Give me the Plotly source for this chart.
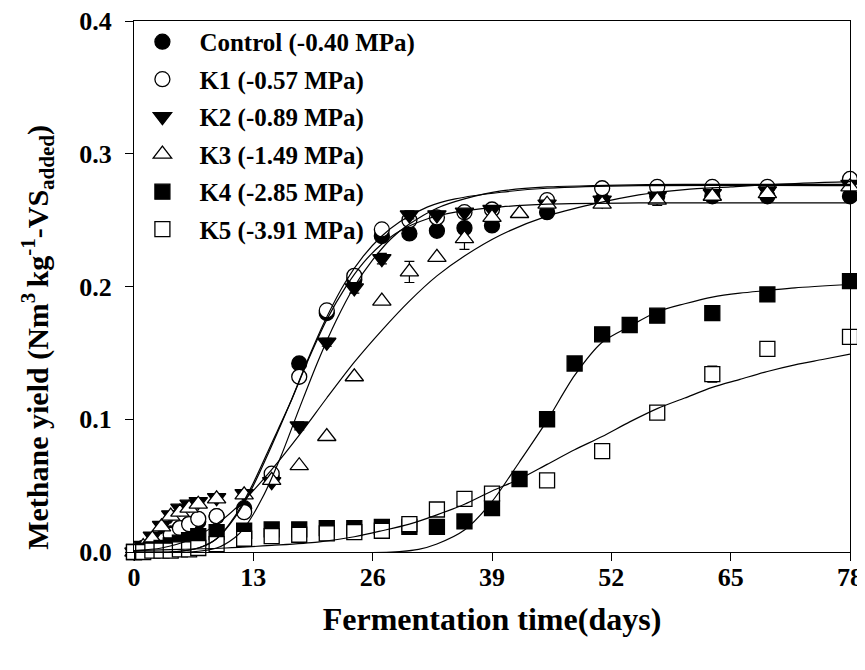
import plotly.graph_objects as go

# ---------------- data ----------------
days = [0, 1, 2, 3, 4, 5, 6, 7, 9, 12, 15, 18, 21, 24, 27, 30, 33, 36, 39, 42, 45, 48, 51, 54, 57, 63, 69, 78]

control = [0.000, 0.003, 0.006, 0.010, 0.014, 0.018, 0.021, 0.023, 0.027, 0.033, 0.056, 0.142, 0.180, 0.205,
           0.238, 0.240, 0.242, 0.244, 0.246, None, 0.256, None, 0.265, None, 0.268, 0.268, 0.268, 0.268]
k1 = [0.000, 0.002, 0.005, 0.009, 0.013, 0.018, 0.021, 0.025, 0.027, 0.030, 0.059, 0.132, 0.182, 0.208,
      0.243, 0.250, 0.252, 0.256, 0.258, None, 0.265, None, 0.274, None, 0.275, 0.275, 0.275, 0.281]
k2 = [0.000, 0.005, 0.012, 0.020, 0.028, 0.033, 0.036, 0.038, 0.041, 0.044, 0.053, 0.095, 0.158, 0.199,
      0.221, 0.254, 0.254, 0.256, 0.258, None, 0.262, None, 0.265, None, 0.268, 0.270, 0.272, 0.277]
k3 = [0.000, 0.004, 0.010, 0.019, 0.027, 0.030, 0.033, 0.036, 0.040, 0.043, 0.054, 0.065, 0.087, 0.132,
      0.189, 0.211, 0.222, 0.236, 0.252, 0.255, 0.262, None, 0.262, None, 0.265, 0.268, 0.270, 0.275]
k4 = [0.000, 0.001, 0.002, 0.003, 0.005, 0.007, 0.009, 0.012, 0.015, 0.016, 0.017, 0.017, 0.018, 0.018,
      0.019, 0.019, 0.019, 0.023, 0.033, 0.055, 0.100, 0.142, 0.164, 0.171, 0.178, 0.180, 0.194, 0.204]
k5 = [0.000, 0.000, 0.001, 0.001, 0.001, 0.002, 0.002, 0.003, 0.006, 0.010, 0.012, 0.013, 0.014, 0.015,
      0.016, 0.021, 0.032, 0.040, 0.044, None, 0.054, None, 0.076, None, 0.105, 0.134, 0.153, 0.162]

k2_err = [0, 0, 0, 0, 0, 0, 0, 0, 0, 0, 0, 0.003, 0.003, 0.004, 0.004, 0.003, 0, 0, 0, 0, 0, 0, 0, 0, 0, 0, 0, 0]
k3_err = [0, 0, 0, 0, 0, 0, 0, 0, 0, 0, 0, 0, 0, 0, 0, 0.008, 0, 0.008, 0, 0, 0, 0, 0, 0, 0.004, 0, 0, 0]
k5_err = [0, 0, 0, 0, 0, 0, 0, 0, 0, 0, 0, 0, 0, 0, 0, 0, 0.004, 0, 0, 0, 0, 0, 0, 0, 0, 0.006, 0, 0]

# fitted curves
fit_days_a = [0, 4, 7, 9, 11, 13, 15, 17, 19, 21, 23, 25, 27, 29, 32, 35, 40, 45, 55, 78]
fit_control = [0.000, 0.000, 0.003, 0.010, 0.027, 0.052, 0.082, 0.112, 0.145, 0.175, 0.199, 0.218, 0.232,
               0.242, 0.251, 0.256, 0.260, 0.262, 0.263, 0.263]
fit_k1 = [0.000, 0.000, 0.003, 0.010, 0.026, 0.050, 0.080, 0.112, 0.146, 0.177, 0.203, 0.223, 0.238,
          0.249, 0.260, 0.266, 0.271, 0.274, 0.276, 0.276]
fit_days_b = [0, 6, 9, 11, 12, 14, 16, 18, 20, 22, 24, 26, 28, 30, 33, 36, 40, 45, 50, 60, 78]
fit_k2 = [0.000, 0.000, 0.003, 0.011, 0.018, 0.041, 0.072, 0.108, 0.143, 0.174, 0.200, 0.220, 0.236,
          0.247, 0.259, 0.266, 0.272, 0.275, 0.276, 0.277, 0.277]
fit_days_c = [0, 3, 6, 9, 12, 15, 18, 21, 24, 27, 30, 33, 36, 40, 45, 50, 55, 60, 65, 70, 78]
fit_k3 = [0.001, 0.003, 0.009, 0.021, 0.039, 0.062, 0.088, 0.116, 0.143, 0.167, 0.189, 0.208, 0.223,
          0.239, 0.253, 0.262, 0.269, 0.273, 0.275, 0.277, 0.279]
fit_days_d = [0, 28, 31, 33, 36, 39, 42, 45, 48, 51, 54, 57, 60, 63, 66, 69, 72, 78]
fit_k4 = [0.000, 0.000, 0.002, 0.006, 0.0165, 0.038, 0.068, 0.099, 0.133, 0.158, 0.170, 0.181, 0.187,
          0.192, 0.195, 0.197, 0.199, 0.2015]
fit_days_e = [0, 5, 10, 15, 20, 24, 27, 30, 33, 36, 39, 42, 45, 48, 51, 54, 57, 60, 63, 66, 69, 72, 75, 78]
fit_k5 = [0.001, 0.002, 0.003, 0.005, 0.0075, 0.0115, 0.016, 0.021, 0.028, 0.036, 0.046, 0.055, 0.066,
          0.077, 0.087, 0.098, 0.108, 0.116, 0.124, 0.130, 0.136, 0.141, 0.145, 0.149]

names = ["Control (-0.40 MPa)", "K1 (-0.57 MPa)", "K2 (-0.89 MPa)",
         "K3 (-1.49 MPa)", "K4 (-2.85 MPa)", "K5 (-3.91 MPa)"]
x_ticks = [0, 13, 26, 39, 52, 65, 78]
y_ticks = [0.0, 0.1, 0.2, 0.3, 0.4]
x_title = "Fermentation time(days)"
y_title = "Methane yield (Nm<sup>3 </sup>kg<sup>-1</sup>-VS<sub>added</sub>)"

# ---------------- figure ----------------
FONT = "Liberation Serif"
fig = go.Figure()

series = [control, k1, k2, k3, k4, k5]
errs = [None, None, k2_err, k3_err, None, k5_err]
symbols = ["circle", "circle", "triangle-down", "triangle-up", "square", "square"]
fills = ["black", "white", "black", "white", "black", "white"]
sizes = [15, 15, 16, 16, 15, 15]

for i, (name, ys, err, sym, fc, sz) in enumerate(zip(names, series, errs, symbols, fills, sizes)):
    kw = {}
    if err is not None:
        kw["error_y"] = dict(type="data", array=err, visible=True, color="black",
                             thickness=1.2, width=5)
    fig.add_trace(go.Scatter(
        x=days, y=ys, mode="markers", name=name, cliponaxis=False, legendgroup="g%d" % i,
        marker=dict(symbol=sym, size=sz, color=fc, line=dict(color="black", width=1.3)),
        **kw))

fits = [(fit_days_a, fit_control), (fit_days_a, fit_k1), (fit_days_b, fit_k2),
        (fit_days_c, fit_k3), (fit_days_d, fit_k4), (fit_days_e, fit_k5)]
for fx, fy in fits:
    fig.add_trace(go.Scatter(x=fx, y=fy, mode="lines", showlegend=False, hoverinfo="skip",
                             line=dict(color="black", width=1.2, shape="spline", smoothing=0.8)))

axis_common = dict(showline=True, linecolor="black", linewidth=1.3, mirror=True,
                   ticks="outside", ticklen=8, tickwidth=1.2, tickcolor="black",
                   showgrid=False, zeroline=False, automargin=False,
                   ticklabeloverflow="allow",
                   tickfont=dict(family=FONT, size=26, color="black", weight="bold"))

fig.update_layout(
    width=857, height=636,
    margin=dict(l=126, r=15, t=12, b=92),
    paper_bgcolor="white", plot_bgcolor="white",
    font=dict(family=FONT, color="black", weight="bold"),
    xaxis=dict(range=[0, 78], tickvals=x_ticks, ticktext=[str(v) for v in x_ticks],
               ticklabelstandoff=-6,
               title=dict(text=x_title,
                          font=dict(family=FONT, size=32, color="black", weight="bold"),
                          standoff=16),
               **axis_common),
    yaxis=dict(range=[0, 0.4], tickvals=y_ticks, ticktext=["%.1f" % v for v in y_ticks],
               ticklabelstandoff=8,
               **axis_common),
    legend=dict(x=-0.012, y=1.002, xanchor="left", yanchor="top",
                bgcolor="rgba(0,0,0,0)", borderwidth=0,
                font=dict(family=FONT, size=25, color="black", weight="bold"),
                itemwidth=64, tracegroupgap=2),
    showlegend=True,
    annotations=[dict(text=y_title, textangle=-90, xref="paper", yref="paper",
                      x=-0.134, y=0.4035, xanchor="center", yanchor="middle", showarrow=False,
                      font=dict(family=FONT, size=30, color="black", weight="bold"))],
)

fig.write_html("out.html")
